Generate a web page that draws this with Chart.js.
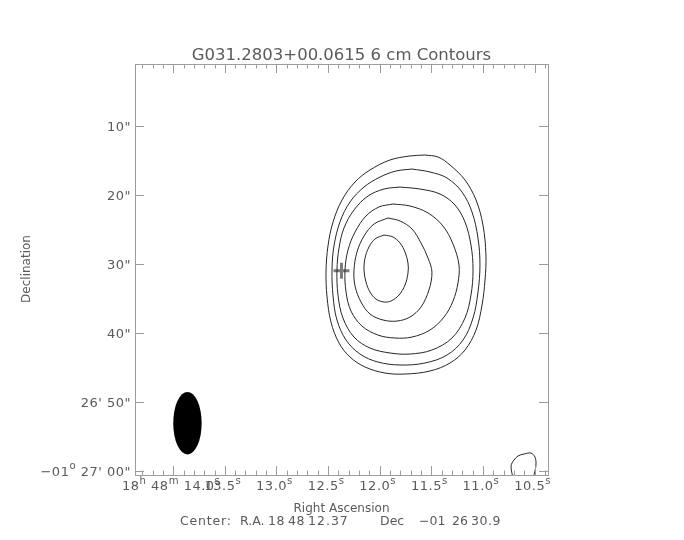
<!DOCTYPE html>
<html>
<head>
<meta charset="utf-8">
<script src="https://cdn.jsdelivr.net/npm/chart.js@4.4.0/dist/chart.umd.min.js"></script>
<style>
html, body { margin: 0; padding: 0; background: #fff; }
#wrap { width: 684px; height: 540px; }
</style>
</head>
<body>
<div id="wrap"><canvas id="mainChart" width="684" height="540"></canvas></div>
<script>
// Axis ranges: RA = seconds after 18h 48m, Dec = arcsec after -01 26'
const raMin = 10.37, raMax = 14.37;
const decMin = 0.95, decMax = 60.51;

const raTicks = [14.0, 13.5, 13.0, 12.5, 12.0, 11.5, 11.0, 10.5];
const raTickLabels = ["14.0", "13.5", "13.0", "12.5", "12.0", "11.5", "11.0", "10.5"];
const decTicks = [10, 20, 30, 40, 50, 60];
const decTickLabels = [["10\""], ["20\""], ["30\""], ["40\""], ["26' 50\""], ["\u221201", "o", " 27' 00\""]];

// contour levels, inner to outer  [RA s, Dec "]
const contour1 = [[11.958,25.73],[11.871,26.02],[11.803,26.89],[11.755,28.20],[11.726,29.79],[11.726,31.24],[11.755,32.98],[11.813,34.43],[11.891,35.30],[11.958,35.44],[12.036,35.01],[12.094,33.99],[12.133,32.54],[12.152,30.81],[12.142,29.07],[12.104,27.47],[12.046,26.31],[11.958,25.73]];
const contour2 = [[11.920,23.27],[11.803,23.70],[11.687,24.86],[11.600,26.89],[11.532,29.07],[11.494,31.10],[11.523,33.70],[11.600,36.17],[11.707,37.62],[11.833,38.20],[11.968,38.05],[12.094,37.18],[12.181,35.44],[12.239,33.12],[12.249,30.81],[12.220,28.20],[12.152,25.88],[12.055,24.14],[11.920,23.27]];
const contour3 = [[11.871,21.24],[11.707,21.53],[11.532,22.54],[11.387,24.43],[11.290,27.04],[11.232,30.08],[11.242,32.69],[11.290,35.30],[11.377,37.62],[11.513,39.50],[11.687,40.52],[11.852,40.66],[12.017,40.23],[12.172,38.92],[12.278,36.75],[12.326,33.99],[12.336,30.81],[12.307,27.91],[12.239,25.30],[12.133,22.98],[12.007,21.67],[11.871,21.24]];
const contour4 = [[11.803,18.78],[11.610,19.07],[11.416,19.79],[11.271,21.38],[11.174,23.85],[11.116,27.18],[11.096,30.81],[11.116,34.43],[11.174,37.76],[11.300,40.66],[11.494,42.40],[11.707,42.98],[11.900,42.83],[12.094,42.11],[12.249,40.52],[12.356,37.76],[12.404,34.43],[12.414,30.81],[12.394,27.62],[12.346,24.72],[12.249,22.11],[12.113,20.08],[11.958,19.07],[11.803,18.78]];
const contour5 = [[11.687,16.17],[11.513,16.60],[11.348,17.47],[11.203,19.50],[11.106,22.40],[11.048,26.17],[11.029,30.08],[11.048,33.99],[11.096,37.76],[11.193,40.95],[11.348,43.12],[11.561,44.28],[11.803,44.57],[12.017,44.14],[12.191,42.98],[12.326,40.95],[12.414,38.05],[12.452,34.57],[12.462,30.81],[12.443,27.33],[12.385,23.85],[12.288,20.95],[12.152,18.78],[11.997,17.33],[11.842,16.46],[11.687,16.17]];
const contour6 = [[11.561,14.14],[11.435,14.43],[11.319,15.59],[11.174,17.76],[11.067,20.66],[11.000,24.28],[10.971,28.63],[10.980,32.25],[11.009,35.88],[11.067,39.50],[11.174,42.40],[11.319,44.28],[11.513,45.44],[11.755,45.88],[11.949,45.73],[12.142,44.86],[12.288,43.41],[12.394,41.38],[12.472,38.34],[12.510,34.72],[12.520,31.10],[12.501,27.33],[12.452,23.85],[12.365,20.66],[12.239,18.05],[12.094,16.31],[11.900,14.86],[11.707,14.28],[11.561,14.14]];
const cornerContour = [[10.709,60.95],[10.728,59.21],[10.699,58.34],[10.661,57.76],[10.603,57.47],[10.535,57.33],[10.496,57.91],[10.486,58.92],[10.496,59.94],[10.515,60.95]];

const centerPos = [12.37, 30.9];
// beam: centre, full width in RA seconds, full height in arcsec
const beam = { ra: 13.862, dec: 53.0, width: 0.275, height: 9.05 };

const axisColor = "#9c9c9c";
const textColor = "#5a5a5a";
const fontName = '"DejaVu Sans"';

function toPoints(arr) {
    return arr.map(p => ({ x: p[0], y: p[1] }));
}

function contourSet(arr) {
    return {
        data: toPoints(arr),
        showLine: true,
        borderColor: "#262626",
        borderWidth: 1,
        pointRadius: 0,
        tension: 0.35,
        fill: false
    };
}

// draw text made of normal / superscript pieces
function partsWidth(ctx, parts, size) {
    let w = 0;
    parts.forEach(p => {
        ctx.font = (p[1] ? size * 0.78 : size) + "px " + fontName;
        w += ctx.measureText(p[0]).width;
    });
    return w;
}
function drawParts(ctx, parts, x, y, align, size, raise) {
    const w = partsWidth(ctx, parts, size);
    let cx = align === "right" ? x - w : (align === "center" ? x - w / 2 : x);
    ctx.textAlign = "left";
    ctx.textBaseline = "alphabetic";
    parts.forEach(p => {
        ctx.font = (p[1] ? size * 0.78 : size) + "px " + fontName;
        ctx.fillText(p[0], cx, p[1] ? y - raise : y);
        cx += ctx.measureText(p[0]).width;
    });
}

// piece of text at a given left x, with its own size and spacing
function piece(ctx, text, x, y, size, spacing) {
    ctx.font = size + "px " + fontName;
    ctx.letterSpacing = spacing + "px";
    ctx.fillText(text, x, y);
    ctx.letterSpacing = "0px";
}

const frame = {
    id: "frame",
    beforeDatasetsDraw(chart) {
        const ctx = chart.ctx;
        const xs = chart.scales.x, ys = chart.scales.y;
        // beam ellipse
        const x0 = xs.getPixelForValue(beam.ra - beam.width / 2);
        const x1 = xs.getPixelForValue(beam.ra + beam.width / 2);
        const y0 = ys.getPixelForValue(beam.dec - beam.height / 2);
        const y1 = ys.getPixelForValue(beam.dec + beam.height / 2);
        ctx.save();
        ctx.fillStyle = "#000";
        ctx.beginPath();
        ctx.ellipse((x0 + x1) / 2, (y0 + y1) / 2, Math.abs(x1 - x0) / 2, Math.abs(y1 - y0) / 2, 0, 0, Math.PI * 2);
        ctx.fill();
        ctx.restore();
    },
    afterDraw(chart) {
        const ctx = chart.ctx;
        const a = chart.chartArea;
        const xs = chart.scales.x, ys = chart.scales.y;
        ctx.save();
        ctx.strokeStyle = axisColor;
        ctx.lineWidth = 1;
        ctx.strokeRect(Math.round(a.left) + 0.5, Math.round(a.top) + 0.5, Math.round(a.right - a.left), Math.round(a.bottom - a.top));

        ctx.beginPath();
        // minor RA ticks every 0.1 s
        for (let v = 10.4; v <= 14.35; v += 0.1) {
            const px = Math.round(xs.getPixelForValue(v)) + 0.5;
            ctx.moveTo(px, a.bottom); ctx.lineTo(px, a.bottom - 4.5);
            ctx.moveTo(px, a.top); ctx.lineTo(px, a.top + 4.5);
        }
        raTicks.forEach(v => {
            const px = Math.round(xs.getPixelForValue(v)) + 0.5;
            ctx.moveTo(px, a.bottom); ctx.lineTo(px, a.bottom - 9);
            ctx.moveTo(px, a.top); ctx.lineTo(px, a.top + 9);
        });
        decTicks.forEach(v => {
            const py = Math.round(ys.getPixelForValue(v)) + 0.5;
            ctx.moveTo(a.left, py); ctx.lineTo(a.left + 9, py);
            ctx.moveTo(a.right, py); ctx.lineTo(a.right - 9, py);
        });
        ctx.stroke();

        ctx.fillStyle = textColor;
        ctx.letterSpacing = "0.5px";
        // Dec labels
        decTicks.forEach((v, i) => {
            const py = ys.getPixelForValue(v);
            const lab = decTickLabels[i];
            const parts = lab.length === 1 ? [[lab[0], false]] : [[lab[0], false], [lab[1], true], [lab[2], false]];
            drawParts(ctx, parts, a.left - 4, py + 5, "right", 13, 7);
        });
        // RA labels
        raTicks.forEach((v, i) => {
            const px = xs.getPixelForValue(v);
            if (i === 0) {
                drawParts(ctx, [["18", false], ["h", true], [" 48", false], ["m", true], [" " + raTickLabels[i], false], ["s", true]], 122, 490, "left", 13, 6);
            } else {
                drawParts(ctx, [[raTickLabels[i], false], ["s", true]], px - 2, 490, "center", 13, 6);
            }
        });
        ctx.letterSpacing = "0px";

        // titles
        ctx.textBaseline = "alphabetic";
        ctx.textAlign = "center";
        ctx.font = "16.5px " + fontName;
        ctx.fillText("G031.2803+00.0615 6 cm Contours", (a.left + a.right) / 2, 60);
        ctx.font = "12px " + fontName;
        ctx.fillText("Right Ascension", (a.left + a.right) / 2, 512);
        ctx.textAlign = "left";
        piece(ctx, "Center:", 180, 525, 12.5, 0.8);
        piece(ctx, "R.A.", 240, 525, 12.5, 0);
        piece(ctx, "18", 268, 525, 12.5, 0.5);
        piece(ctx, "48", 288, 525, 12.5, 0.5);
        piece(ctx, "12.37", 308, 525, 12.5, 1);
        piece(ctx, "Dec", 380, 525, 12.5, 0);
        piece(ctx, "\u221201", 419, 525, 12.5, 0);
        piece(ctx, "26", 452, 525, 12.5, 0);
        piece(ctx, "30.9", 471, 525, 12.5, 0.5);
        ctx.font = "12px " + fontName;
        ctx.save();
        ctx.translate(30, 269);
        ctx.rotate(-Math.PI / 2);
        ctx.textAlign = "center";
        ctx.fillText("Declination", 0, 0);
        ctx.restore();
        ctx.restore();
    }
};

new Chart(document.getElementById("mainChart"), {
    type: "scatter",
    data: {
        datasets: [
            contourSet(contour1),
            contourSet(contour2),
            contourSet(contour3),
            contourSet(contour4),
            contourSet(contour5),
            contourSet(contour6),
            contourSet(cornerContour),
            {
                data: [{ x: centerPos[0], y: centerPos[1] }],
                pointStyle: "cross",
                pointRadius: 8,
                pointBorderWidth: 3,
                pointBorderColor: "#7a7a7a",
                showLine: false
            }
        ]
    },
    options: {
        responsive: false,
        animation: false,
        devicePixelRatio: 1,
        layout: { padding: { left: 135, right: 136, top: 64, bottom: 65 } },
        plugins: { legend: { display: false }, tooltip: { enabled: false }, title: { display: false } },
        scales: {
            x: { type: "linear", min: raMin, max: raMax, reverse: true, display: false },
            y: { type: "linear", min: decMin, max: decMax, reverse: true, display: false }
        }
    },
    plugins: [frame]
});
</script>
</body>
</html>
